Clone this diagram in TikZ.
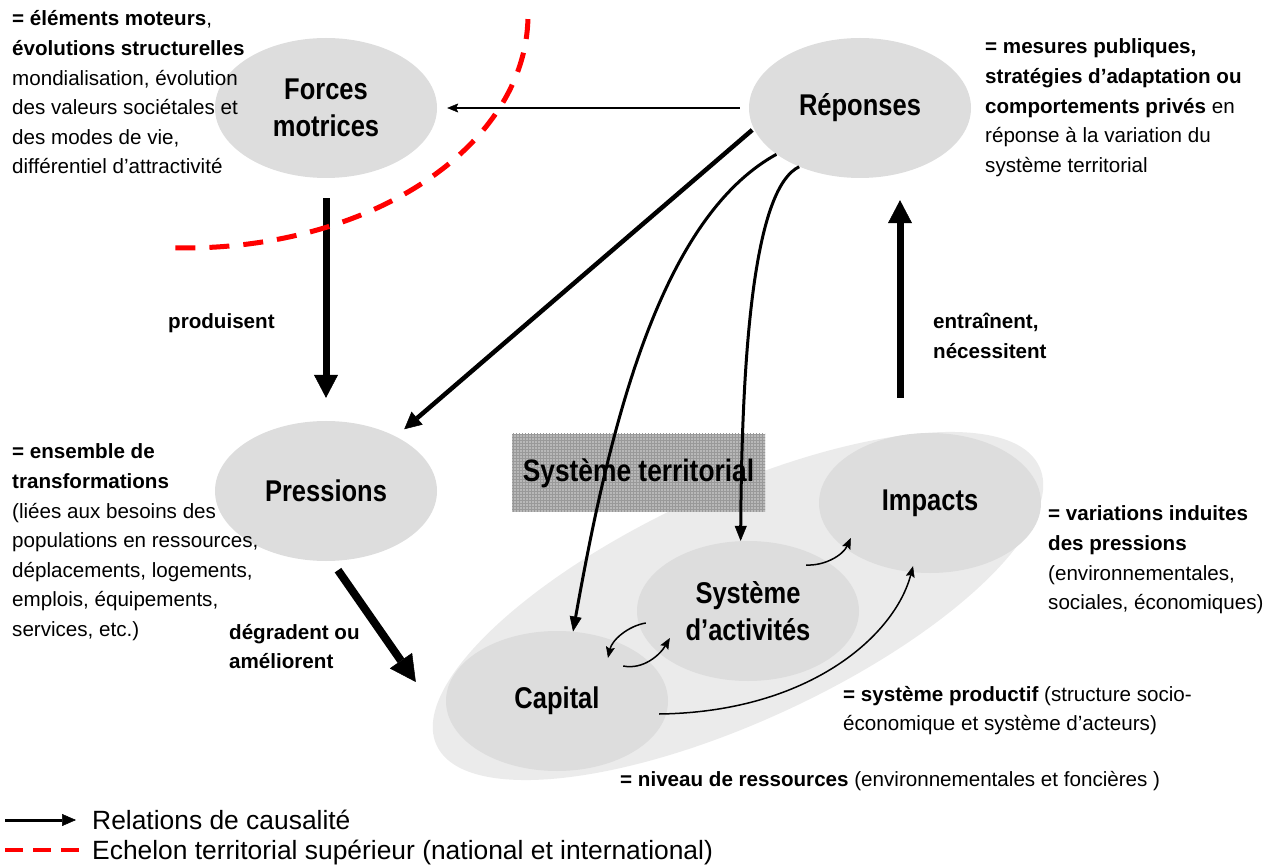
\documentclass[tikz,border=0pt]{standalone}
\usepackage{fontspec}
\setmainfont{Liberation Sans}
\newfontfamily\labfont{Liberation Sans}[FakeStretch=0.85]
\usetikzlibrary{shapes.geometric,arrows.meta,patterns}
\definecolor{ellgray}{HTML}{DDDDDD}
\definecolor{biggray}{HTML}{EBEBEB}
\definecolor{boxgray}{HTML}{B8B8B8}
\definecolor{gridgray}{HTML}{999999}
\definecolor{dashred}{HTML}{FF0000}
\begin{document}
\begin{tikzpicture}[x=1pt,y=-1pt,
  ell/.style={ellipse, fill=ellgray, inner sep=0pt, minimum width=222pt, minimum height=140pt,
    align=center, font=\labfont\bfseries\fontsize{30}{37.5}\selectfont},
  side/.style={anchor=base west, inner sep=0pt, font=\fontsize{20.6}{29.6}\selectfont},
  legendtext/.style={anchor=base west, inner sep=0pt, font=\fontsize{26.4}{30}\selectfont},
  thinarrow/.style={line width=1.3pt, -{Stealth[length=11pt,width=9pt,inset=2pt,line width=0.5pt]}},
  smallarrow/.style={line width=1.5pt, -{Stealth[length=11pt,width=9pt,inset=2pt,line width=0.5pt]}},
  curvearrow/.style={line width=3pt, -{Triangle[length=15pt,width=12pt,line width=0.5pt]}},
  medarrow/.style={line width=4.5pt, -{Triangle[length=17pt,width=17pt,line width=0.5pt]}},
  bigarrow/.style={line width=7pt, -{Triangle[length=23pt,width=24pt,line width=0.5pt]}},
  biggerarrow/.style={line width=8pt, -{Triangle[length=26pt,width=27pt,line width=0.5pt]}},
  reddash/.style={draw=dashred, line width=5pt, dash pattern=on 20pt off 14pt}
]
\useasboundingbox (0,0) rectangle (1278,866);

% upper ellipses
\node[ell] (for) at (326,108) {Forces\\motrices};
\node[ell] (rep) at (860,108) {Réponses};
\node[ell] (pre) at (326,491) {Pressions};

% territorial system
\node[ellipse, fill=biggray, inner sep=0pt, minimum width=664pt, minimum height=230pt, rotate=24.8] (terr) at (738,606) {};
\node[inner sep=0pt, minimum width=253pt, minimum height=78pt, preaction={fill=boxgray},
  pattern=grid, pattern color=gridgray,
  font=\labfont\bfseries\fontsize{31}{36}\selectfont] (box) at (638.5,473) {Système territorial};
\node[ell] (cap) at (557,701) {Capital};
\node[ell] (sys) at (748,611) {Système\\d’activités};
\node[ell] (imp) at (930,503) {Impacts};

% connectors
\draw[thinarrow, shorten <=9pt, shorten >=10pt] (rep.west) -- (for.east);
\draw[bigarrow, shorten <=20pt, shorten >=23pt] (for.south) -- (pre.north);
\draw[medarrow, shorten <=2pt, shorten >=11pt] (rep.191) -- (pre.38);
\draw[curvearrow] (rep.209) .. controls (659,219) and (609,430) .. (cap.77);
\draw[curvearrow] (rep.224) .. controls (757,187) and (742,330) .. (sys.96);
\draw[bigarrow] ([xshift=-30pt,yshift=35pt]imp.north) -- ([xshift=40pt,yshift=-22pt]rep.south);
\draw[biggerarrow] ([xshift=12pt,yshift=-9pt]pre.south) -- ([xshift=-30pt,yshift=19pt]cap.west);
\draw[smallarrow] ([xshift=-53pt,yshift=46pt]sys.east) .. controls (825,566) and (843,555) .. ([xshift=32pt,yshift=-35pt]imp.west);
\draw[smallarrow] ([xshift=9pt,yshift=-12pt]sys.west) .. controls (628,626) and (612,640) .. ([xshift=51pt,yshift=-27pt]cap.north);
\draw[smallarrow] ([xshift=-45pt,yshift=35pt]cap.east) .. controls (643,670) and (660,655) .. ([xshift=33pt,yshift=-27pt]sys.west);
\draw[smallarrow] ([xshift=-9pt,yshift=-13pt]cap.east) .. controls (810,712) and (895,635) .. ([xshift=-17pt,yshift=7pt]imp.south);

% texts
\node[side] (txfor) at (12,26) {\begin{tabular}[t]{@{}l@{}}
\textbf{= éléments moteurs},\\
\textbf{évolutions structurelles}\\
mondialisation, évolution\\
des valeurs sociétales et\\
des modes de vie,\\
différentiel d’attractivité\end{tabular}};
\node[side] (txrep) at (985,54) {\begin{tabular}[t]{@{}l@{}}
\textbf{= mesures publiques,}\\
\textbf{stratégies d’adaptation ou}\\
\textbf{comportements privés} en\\
réponse à la variation du\\
système territorial\end{tabular}};
\node[side] (txpre) at (12,459) {\begin{tabular}[t]{@{}l@{}}
\textbf{= ensemble de}\\
\textbf{transformations}\\
(liées aux besoins des\\
populations en ressources,\\
déplacements, logements,\\
emplois, équipements,\\
services, etc.)\end{tabular}};
\node[side] (tximp) at (1048,521) {\begin{tabular}[t]{@{}l@{}}
\textbf{= variations induites}\\
\textbf{des pressions}\\
(environnementales,\\
sociales, économiques)\end{tabular}};
\node[side] (txsys) at (843,701) {\begin{tabular}[t]{@{}l@{}}
\textbf{= système productif} (structure socio-\\
économique et système d’acteurs)\end{tabular}};
\node[side] (txcap) at (620,786) {\textbf{= niveau de ressources} (environnementales et foncières )};
\node[side] (lbprod) at (168,329) {\textbf{produisent}};
\node[side] (lbentr) at (933,329) {\begin{tabular}[t]{@{}l@{}}
\textbf{entraînent,}\\
\textbf{nécessitent}\end{tabular}};
\node[side] (lbdegr) at (229,639) {\begin{tabular}[t]{@{}l@{}}
\textbf{dégradent ou}\\
\textbf{améliorent}\end{tabular}};

% upper territorial level
\draw[reddash] plot[domain=1:93.2, samples=80, smooth] ({185+343*cos(\x)},{15+233*sin(\x)});

% legend
\coordinate (lga) at (5,820);
\coordinate (lgb) at (76,820);
\draw[line width=3pt, -{Triangle[length=14pt,width=12pt,line width=0.5pt]}] (lga) -- (lgb);
\coordinate (lra) at (5,850);
\coordinate (lrb) at (79,850);
\draw[draw=dashred, line width=4.5pt, dash pattern=on 18pt off 10pt] (lra) -- (lrb);
\node[legendtext] (lg1) at (92,829) {Relations de causalité};
\node[legendtext] (lg2) at (92,859) {Echelon territorial supérieur (national et international)};
\end{tikzpicture}
\end{document}
